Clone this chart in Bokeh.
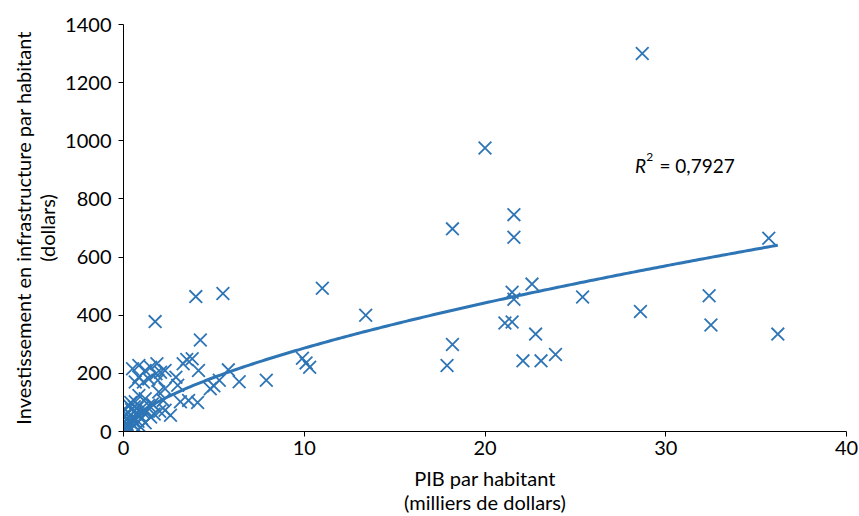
import numpy as np
from bokeh.plotting import figure
from bokeh.models import Range1d, Label, FixedTicker
from bokeh.embed import file_html
from bokeh.resources import INLINE

# GDP per capita (thousands of dollars)
gdp = [
    9.9, 10.1, 10.3, 11.0, 13.4, 17.9, 18.2, 18.2, 20.0,
    21.1, 21.5, 21.5, 21.6, 21.6, 21.6, 22.1, 22.6, 22.8, 23.1, 23.9,
    25.4, 28.6, 28.7, 32.4, 32.5, 35.7, 36.2,
    7.9, 6.4, 5.8, 5.5, 4.0, 4.25, 1.75, 3.3, 3.5, 3.8, 4.15, 5.3, 4.8,
    5.0, 3.6, 4.1, 3.0, 3.15, 2.9,
    0.5, 0.85, 1.2, 1.5, 0.85, 0.65, 1.1, 1.4, 1.8, 2.05, 2.3, 1.85, 2.3,
    1.95, 2.2, 2.3, 2.6, 0.85, 1.2, 0.65, 0.3, 1.0, 1.4, 1.6, 1.9,
    0.1, 0.2, 0.3, 0.15, 0.4, 0.5, 0.6, 0.7, 0.8, 0.9, 1.0, 1.1, 1.2,
    0.05, 0.25, 0.45, 0.35, 0.55, 0.75, 0.95, 1.3, 0.0, 0.2, 0.6, 0.4,
    1.5, 1.7, 2.0, 0.1, 0.3,
]
# Infrastructure investment per capita (dollars)
invest = [
    252, 236, 221, 493, 400, 227, 299, 697, 975,
    373, 377, 479, 455, 746, 668, 243, 507, 335, 243, 265,
    463, 413, 1300, 467, 366, 665, 335,
    176, 171, 212, 475, 464, 315, 378, 233, 248, 250, 210, 176, 147,
    157, 107, 100, 159, 102, 187,
    216, 227, 210, 221, 187, 170, 170, 181, 199, 204, 210, 233, 147,
    136, 107, 73, 56, 124, 113, 102, 90, 79, 90, 95, 176,
    10, 25, 15, 40, 30, 50, 20, 60, 35, 55, 45, 65, 30,
    55, 65, 75, 5, 35, 80, 15, 70, 30, 0, 85, 100,
    50, 60, 70, 75, 50,
]

# Power trend line: y = A * x^B
TREND_A = 68.0
TREND_B = 0.625
R2_TEXT = "= 0,7927"

x_ticks = [0, 10, 20, 30, 40]
y_ticks = [0, 200, 400, 600, 800, 1000, 1200, 1400]

BLUE = "#2E75B6"
FONT = "Lato"

p = figure(width=859, height=516, output_backend="svg", toolbar_location=None,
           x_range=Range1d(0, 40), y_range=Range1d(0, 1400),
           min_border_left=123, min_border_right=13, min_border_top=24,
           min_border_bottom=83)
p.outline_line_color = None
p.grid.visible = False

p.scatter(gdp, invest, marker="x", size=18, line_color=BLUE, line_width=1.8)

xs = np.linspace(max(min(gdp), 0.05), max(gdp), 200)
p.line(xs, TREND_A * xs ** TREND_B, line_color=BLUE, line_width=3)

for ax in (p.xaxis, p.yaxis):
    ax.axis_line_color = "black"
    ax.major_tick_line_color = "black"
    ax.major_tick_in = 0
    ax.major_tick_out = 5
    ax.minor_tick_line_color = None
    ax.major_label_text_font = FONT
    ax.major_label_text_font_size = "20px"
    ax.major_label_text_color = "black"
    ax.axis_label_text_font = FONT
    ax.axis_label_text_font_size = "20px"
    ax.axis_label_text_font_style = "normal"
    ax.axis_label_text_color = "black"
    ax.axis_label_text_line_height = 1.0

p.xaxis.ticker = FixedTicker(ticks=x_ticks)
p.yaxis.ticker = FixedTicker(ticks=y_ticks)
p.xaxis.major_label_standoff = 4
p.yaxis.major_label_standoff = 7
p.xaxis.axis_label = "PIB par habitant\n(milliers de dollars)"
p.yaxis.axis_label = "Investissement en infrastructure par habitant\n(dollars)"
p.xaxis.axis_label_standoff = 8
p.yaxis.axis_label_standoff = 3

# R^2 annotation placed in data coordinates
p.add_layout(Label(x=28.3, y=915, text="R",
                   text_font=FONT, text_font_size="19px", text_font_style="italic",
                   text_baseline="alphabetic", text_color="black"))
p.add_layout(Label(x=28.92, y=945, text="2",
                   text_font=FONT, text_font_size="12px",
                   text_baseline="alphabetic", text_color="black"))
p.add_layout(Label(x=29.65, y=915, text=R2_TEXT,
                   text_font=FONT, text_font_size="19px",
                   text_baseline="alphabetic", text_color="black"))

open("out.html", "w").write(file_html(p, INLINE))
